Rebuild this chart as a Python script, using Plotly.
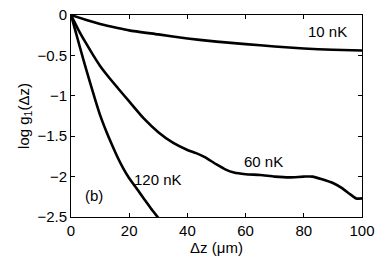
import plotly.graph_objects as go

x10 = [0, 5, 10, 16, 20, 30, 40, 50, 60, 70, 80, 90, 100]
y10 = [0, -0.06, -0.11, -0.16, -0.19, -0.24, -0.29, -0.33, -0.36, -0.39, -0.415, -0.43, -0.44]

x60 = [0, 2.5, 5, 7.5, 10, 13, 16, 20, 25, 30, 35, 40, 43, 46, 50, 53, 56, 60, 65, 70, 75, 80, 83, 86, 90, 93, 96, 98, 100]
y60 = [0, -0.18, -0.34, -0.49, -0.63, -0.77, -0.9, -1.07, -1.28, -1.45, -1.58, -1.67, -1.71, -1.76, -1.85, -1.91, -1.95,
       -1.97, -1.98, -2.0, -2.01, -2.0, -2.0, -2.03, -2.08, -2.14, -2.22, -2.27, -2.27]

x120 = [0, 1, 2, 4, 6, 8, 10, 12, 14, 16, 18, 20, 22, 24, 26, 28, 30]
y120 = [0, -0.13, -0.26, -0.52, -0.77, -1.01, -1.24, -1.43, -1.6, -1.76, -1.9, -2.02, -2.12, -2.22, -2.32, -2.42, -2.51]

xticks = [0, 20, 40, 60, 80, 100]
yticks = [0, -0.5, -1, -1.5, -2, -2.5]
yticklabels = ["0", "\u22120.5", "\u22121", "\u22121.5", "\u22122", "\u22122.5"]

labels = [("10 nK", 88, -0.2), ("60 nK", 66, -1.81), ("120 nK", 30, -2.03), ("(b)", 8, -2.24)]

fig = go.Figure()
for xs, ys in [(x10, y10), (x60, y60), (x120, y120)]:
    fig.add_trace(go.Scatter(x=xs, y=ys, mode="lines", line=dict(color="black", width=2.6, shape="spline", smoothing=0.6),
                             showlegend=False, cliponaxis=True, hoverinfo="skip"))

font = dict(family="Liberation Sans, Arial, sans-serif", size=15, color="black")
for t, xx, yy in labels:
    fig.add_annotation(x=xx, y=yy, text=t, showarrow=False, font=font)

fig.update_layout(
    width=382, height=263, margin=dict(l=71, r=20, t=15, b=46, autoexpand=False),
    paper_bgcolor="white", plot_bgcolor="white", font=font,
    xaxis=dict(range=[0, 100], tickvals=xticks, ticks="inside", ticklen=4, tickcolor="black",
               showline=True, linecolor="black", linewidth=1, mirror="ticks", showgrid=False, zeroline=False,
               automargin=False, tickfont=font, title=dict(text="\u0394z (\u03bcm)", standoff=0, font=font)),
    yaxis=dict(range=[-2.5, 0], tickvals=yticks, ticktext=yticklabels, ticks="inside", ticklen=4, tickcolor="black",
               showline=True, linecolor="black", linewidth=1, mirror="ticks", showgrid=False, zeroline=False,
               automargin=False, tickfont=font, title=dict(text="log g<sub>1</sub>(\u0394z)", standoff=4, font=font)),
)
fig.write_html("out.html", config={"displayModeBar": False},
               post_script="document.body.style.margin='0';document.body.style.overflow='hidden';")
